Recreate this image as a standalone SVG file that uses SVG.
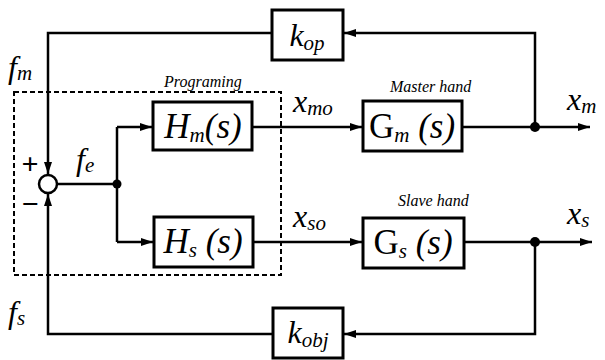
<svg xmlns="http://www.w3.org/2000/svg" width="605" height="360" viewBox="0 0 605 360">
<style>
.box{fill:#fff;stroke:#000;stroke-width:3}
.ln{fill:none;stroke:#000;stroke-width:2.5}
.arr{marker-end:url(#ah)}
.t{font-family:'Liberation Serif','Times New Roman',serif;font-style:italic;fill:#000}
.sg{font-family:'Liberation Serif','Times New Roman',serif;font-size:30px;font-weight:bold;fill:#000}
.big{font-size:35px}
.lbl{font-size:32px}
.cap{font-size:16px}
.sub{font-size:21px}
.dash{fill:none;stroke:#000;stroke-width:2;stroke-dasharray:5 3}
</style>
<defs>
<marker id="ah" markerUnits="userSpaceOnUse" markerWidth="13" markerHeight="9" refX="12" refY="4" orient="auto">
<path d="M0,0 L12,4 L0,8 z" fill="#000"/>
</marker>
</defs>
<rect x="0" y="0" width="605" height="360" fill="#fff"/>
<rect class="dash" x="14" y="92" width="267" height="183"/>
<g id="connectors">
<path class="ln arr" d="M252,127 H362"/>
<path class="ln arr" d="M462,127 H590"/>
<path class="ln arr" d="M535,127 V33 H344"/>
<path class="ln arr" d="M272,33 H48 V174"/>
<path class="ln" d="M57,184 H117"/>
<path class="ln" d="M117,127 V242"/>
<path class="ln arr" d="M117,127 H152"/>
<path class="ln arr" d="M117,242 H153"/>
<path class="ln arr" d="M253,242 H362"/>
<path class="ln arr" d="M464,242 H592"/>
<path class="ln arr" d="M535,242 V334 H344"/>
<path class="ln arr" d="M273,334 H48 V194"/>
<circle cx="535" cy="127" r="5" fill="#000"/>
<circle cx="535" cy="242" r="5" fill="#000"/>
<circle cx="117" cy="184" r="4.5" fill="#000"/>
</g>
<g id="sum">
<circle cx="48" cy="184" r="9" fill="#fff" stroke="#000" stroke-width="2.5"/>
<text class="sg" x="30" y="174" text-anchor="middle">+</text>
<text class="sg" x="30" y="214" text-anchor="middle">−</text>
</g>
<g id="kop">
<rect class="box" x="272" y="10" width="71" height="50"/>
<text class="t lbl" x="307" y="46" text-anchor="middle">k<tspan class="sub" dy="4">op</tspan></text>
</g>
<g id="kobj">
<rect class="box" x="273" y="308" width="70" height="50"/>
<text class="t lbl" x="308" y="343" text-anchor="middle">k<tspan class="sub" dy="4">obj</tspan></text>
</g>
<g id="Hm">
<rect class="box" x="153" y="102" width="99" height="48"/>
<text class="t big" x="203" y="138" text-anchor="middle">H<tspan class="sub" dy="4">m</tspan><tspan dy="-4">(s)</tspan></text>
</g>
<g id="Hs">
<rect class="box" x="154" y="217" width="99" height="50"/>
<text class="t big" x="203" y="253" text-anchor="middle">H<tspan class="sub" dy="4">s</tspan><tspan dy="-4"> (s)</tspan></text>
</g>
<g id="Gm">
<rect class="box" x="363" y="101" width="99" height="50"/>
<text class="t big" x="412" y="138" text-anchor="middle"><tspan font-style="normal">G</tspan><tspan class="sub" dy="4">m</tspan><tspan dy="-4"> (s)</tspan></text>
</g>
<g id="Gs">
<rect class="box" x="363" y="218" width="101" height="50"/>
<text class="t big" x="413" y="254" text-anchor="middle"><tspan font-style="normal">G</tspan><tspan class="sub" dy="4">s</tspan><tspan dy="-4"> (s)</tspan></text>
</g>
<g id="labels">
<text class="t cap" x="164" y="87">Programing</text>
<text class="t cap" x="390" y="92">Master hand</text>
<text class="t cap" x="398" y="206">Slave hand</text>
<text class="t lbl" x="8" y="78">f<tspan class="sub" dy="2">m</tspan></text>
<text class="t lbl" x="76" y="170">f<tspan class="sub" dy="2">e</tspan></text>
<text class="t lbl" x="8" y="323">f<tspan class="sub" dy="2">s</tspan></text>
<text class="t lbl" x="293" y="112">x<tspan class="sub" dy="3">mo</tspan></text>
<text class="t lbl" x="293" y="227">x<tspan class="sub" dy="3">so</tspan></text>
<text class="t lbl" x="567" y="110">x<tspan class="sub" dy="3">m</tspan></text>
<text class="t lbl" x="567" y="224">x<tspan class="sub" dy="3">s</tspan></text>
</g>
</svg>
